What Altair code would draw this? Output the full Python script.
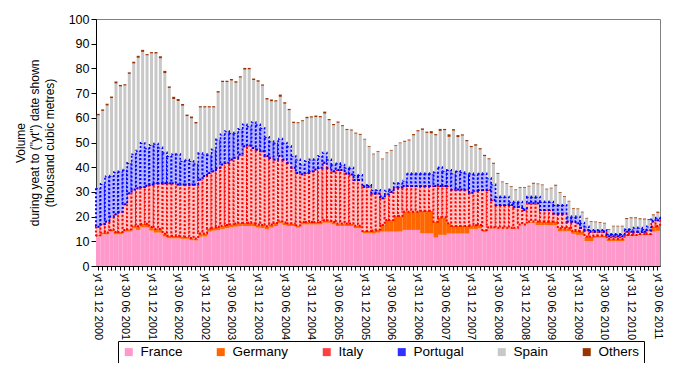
import calendar
import pandas as pd
import altair as alt

series = ["France", "Germany", "Italy", "Portugal", "Spain", "Others"]
colors = ["#FF99CC", "#FF6600", "#FFC4C4", "#B4B4FF", "#C8C8C8", "#993300"]
legend_colors = ["#FF99CC", "#FF6600", "#FF4040", "#3030FF", "#C8C8C8", "#993300"]

# months: year-to-date points, Dec 2000 .. Jun 2011
months = []
for i in range(127):
    yr = 2000 + (11 + i) // 12
    mo = (11 + i) % 12 + 1
    dd = calendar.monthrange(yr, mo)[1]
    months.append(f"yt {dd:02d} {mo:02d} {yr}")

france = [12, 12.8, 12.8, 13.9, 12.8, 12.8, 13.9, 13.9, 15.2, 14.6,
          15.6, 15.6, 14.3, 13.5, 13.5, 11.9, 11.2, 11.2, 11.2, 11,
          11, 10.5, 10.3, 11.9, 11.9, 13.9, 14.3, 14.6, 15, 15.3,
          15.6, 15.9, 16.2, 16.2, 16.2, 16, 15.5, 15.3, 14.8, 15.5,
          16.2, 17.3, 16.5, 16.2, 16.2, 15.5, 16.8, 16.8, 16.8, 16.8,
          16.8, 17.5, 17.5, 16.8, 16.2, 16.2, 16.2, 16.2, 15.3, 15.3,
          13.2, 13.2, 13.2, 13.5, 13.9, 13.9, 13.9, 13.9, 13.9, 14.6,
          14.6, 14.6, 14.6, 13.2, 13.2, 13.2, 11.5, 12.6, 12.6, 13.1,
          13.1, 13.1, 13.1, 13.1, 15, 15, 15.2, 13.8, 15.2, 15.2,
          15.2, 15.2, 15.2, 15.2, 15.2, 16.5, 16.5, 17.5, 17.5, 16.5,
          16.5, 16.5, 16.5, 16.5, 14, 14, 14, 13, 12.6, 12.6,
          10.1, 10.1, 11.5, 11.5, 11.5, 10.1, 10.1, 10.1, 10.1, 12.1,
          12.1, 12.1, 12.5, 12.5, 12.5, 13.9, 14.2]
germany = [0.5, 0.8, 0.8, 0.7, 1.0, 1.0, 0.7, 1.0, 1.2, 1.5,
           1.5, 1.5, 1.5, 1.5, 1.5, 1.2, 1.0, 1.0, 1.0, 1.0,
           0.8, 0.8, 0.8, 1.3, 1.3, 1.3, 1.3, 1.3, 1.3, 1.3,
           1.3, 1.3, 1.3, 1.3, 1.3, 1.3, 1.3, 1.3, 1.3, 1.3,
           1.2, 1.1, 1.1, 1.1, 1.0, 1.0, 1.0, 1.0, 1.0, 1.0,
           1.0, 1.0, 1.0, 1.0, 1.0, 1.0, 1.0, 1.0, 1.0, 1.0,
           1.0, 1.0, 1.2, 1.3, 2.7, 4.7, 4.7, 6.3, 6.3, 7.4,
           7.4, 7.4, 7.4, 9.2, 9.2, 9.2, 6.4, 7.1, 7.1, 4.2,
           3.1, 3.1, 3.1, 3.1, 1.5, 1.5, 1.4, 0.8, 0.5, 0.5,
           0.3, 0.3, 0.3, 0.3, 0.3, 0.3, 0.3, 0.5, 0.5, 1.5,
           1.5, 1.5, 1.5, 1.5, 1.3, 1.3, 1.3, 1.3, 1.7, 1.4,
           1.8, 1.8, 0.8, 0.8, 0.8, 0.9, 0.9, 0.9, 0.9, 0.5,
           0.5, 0.5, 0.5, 0.5, 0.5, 2.0, 2.0]
italy = [3.4, 3.4, 4.4, 5.4, 7.2, 8.2, 10.4, 14.6, 14.6, 15.4,
         14.9, 15.4, 17.2, 18.5, 18.5, 20.4, 21.3, 21.3, 20.8, 21,
         21.2, 21.7, 21.9, 21.8, 23.2, 22.5, 22.8, 23.9, 24.8, 25.2,
         26.2, 26.6, 27.6, 31, 31.3, 30.5, 30.4, 29.9, 28.4, 27,
         25.7, 26.1, 25.5, 24.5, 22.6, 21.2, 19.3, 19.9, 20.6, 21.3,
         22, 23.3, 21.3, 20.6, 21.7, 21.7, 20.3, 19.8, 18.5, 18.5,
         17.9, 17.9, 15, 14.6, 10.8, 10.4, 11.4, 11.7, 11.7, 10.4,
         10.4, 10.4, 10.4, 10, 10, 10, 14.5, 12.7, 12.7, 15.1,
         14.8, 14.8, 14.8, 14.8, 13.2, 14, 14.2, 16.2, 15.1, 11,
         9.2, 9.2, 9.2, 9.2, 8.5, 7.2, 5.9, 7.4, 7.4, 7.4,
         4.7, 4.7, 4.7, 3.3, 6, 6, 2.7, 3.7, 3, 1.5,
         2.6, 2, 1.6, 1.6, 1.6, 1, 1, 1, 1, 1.3,
         1.3, 1.3, 0.9, 0.9, 1.5, 2.1, 2.3]
portugal = [15.6, 16.2, 18.3, 16.5, 17, 16.3, 14, 12.2, 14.3, 15.2,
            17.8, 15.2, 16, 16, 14.5, 12.5, 11, 11.8, 12.2, 9.5,
            10, 9.5, 8.5, 10.6, 8.7, 7.4, 8.8, 11.4, 12.1, 12.8,
            10.8, 10.1, 10.4, 8.8, 7.8, 10.4, 10.1, 9.4, 7.7, 6.7,
            6.8, 7, 6.8, 6.7, 4.7, 5.4, 4, 4.8, 4.7, 4,
            4.7, 4, 3.3, 2.7, 2.7, 2.1, 2.3, 2.8, 2, 2,
            0.7, 0.7, 1.4, 1.4, 1.1, 1.5, 1, 1.6, 1.6, 2.1,
            5.1, 5.1, 5.1, 5.1, 5.1, 5.1, 5.6, 7.6, 6.1, 6.5,
            6.5, 7.5, 7, 6.5, 7.8, 6.5, 6.7, 6.7, 4.7, 6.3,
            3.3, 3.3, 3.3, 1.3, 2, 2, 0.8, 2.6, 2.6, 2.6,
            3.3, 3.3, 3.3, 3.4, 3.4, 3.4, 2, 2, 2.7, 2,
            1.5, 0.7, 0.7, 0.7, 0.7, 1, 1, 1, 1, 1.1,
            1.1, 1.6, 1.6, 1.1, 1.5, 0.8, 1]
spain = [29.5, 29.6, 28.7, 31.5, 35.9, 34.4, 34.1, 36.1, 36.7, 37.6,
         36.9, 37.6, 37.1, 36.5, 36.1, 32.1, 27.6, 22.3, 21.6, 22.4,
         17.7, 17.3, 16.2, 18.6, 19.1, 19.1, 17, 19, 21.3, 19.9,
         21.2, 20.3, 20.8, 22.2, 23, 17.1, 17.3, 17.1, 15.2, 16.2,
         16.7, 17, 15.8, 14.6, 13.4, 14.7, 17.5, 17.3, 17, 17.2,
         15.7, 15.9, 15.9, 15.9, 16.4, 15.6, 15.3, 15.1, 16.8, 16.3,
         18.4, 15.4, 14.4, 15.4, 14.7, 15.2, 15.7, 15.2, 16.2, 15.8,
         13.3, 15.4, 17, 17.6, 16.4, 16.2, 14.9, 14.7, 16.5, 13.4,
         17.3, 13.7, 14.8, 13, 10.6, 11.7, 9.7, 7, 7.7, 8.4,
         9.3, 5.9, 5.2, 6.1, 4.7, 5.7, 8.2, 4.2, 5.3, 5.1,
         6.7, 5, 5.4, 7.8, 4.9, 3.3, 6.1, 3.2, 3, 4.2,
         3.2, 3.3, 3.1, 2.9, 2.6, 1.7, 3, 3, 3, 4,
         4.3, 3.8, 3.4, 3.8, 2.6, 1.7, 2]
others = [0.6, 0.6, 0.7, 0.6, 0.8, 0.6, 0.5, 0.6, 0.7, 0.8,
          0.8, 0.5, 0.5, 0.6, 0.8, 0.9, 0.6, 0.9, 0.8, 0.7,
          0.6, 0.7, 0.6, 0.5, 0.5, 0.5, 0.5, 0.6, 0.5, 0.5,
          0.6, 0.6, 0.5, 0.7, 0.6, 0.6, 0.6, 0.5, 0.6, 0.7,
          0.5, 0.9, 0.6, 0.5, 0.5, 0.4, 0.4, 0.6, 0.5, 0.6,
          0.5, 0.8, 0.5, 0.5, 0.5, 0.4, 0.4, 0.4, 0.4, 0.4,
          0.3, 0.3, 0.3, 0.3, 0.3, 0.3, 0.3, 0.3, 0.3, 0.4,
          0.4, 0.5, 0.5, 0.6, 0.5, 0.9, 0.5, 0.8, 0.5, 1.0,
          0.6, 0.8, 0.5, 0.5, 0.5, 0.6, 0.5, 0.5, 0.4, 0.4,
          0.4, 0.3, 0.3, 0.3, 0.3, 0.3, 0.3, 0.3, 0.4, 0.3,
          0.3, 0.3, 0.3, 0.4, 0.3, 0.3, 0.3, 0.3, 0.3, 0.3,
          0.3, 0.3, 0.3, 0.3, 0.3, 0.3, 0.3, 0.3, 0.3, 0.4,
          0.4, 0.4, 0.4, 0.4, 0.4, 0.4, 0.5]

values = [france, germany, italy, portugal, spain, others]
rows = []
for k, (name, vals) in enumerate(zip(series, values)):
    for i, v in enumerate(vals):
        rows.append({"month": months[i], "series": name, "order": k, "value": v})
df = pd.DataFrame(rows)

label_expr = ("(indexof(datum.label, ' 06 ') > 0 || indexof(datum.label, ' 12 ') > 0)"
              " ? datum.label : ''")

FONT = "Liberation Sans"
textured = "datum.series == 'Italy' || datum.series == 'Portugal'"

x_enc = alt.X("month:N", sort=months,
              scale=alt.Scale(paddingInner=0, paddingOuter=0),
              axis=alt.Axis(title=None, labelAngle=90, labelAlign="left",
                            labelBaseline="middle", labelFont=FONT,
                            labelFontSize=11, labelColor="black",
                            labelPadding=3, labelOverlap=False,
                            labelExpr=label_expr, tickSize=4,
                            tickColor="black", domainColor="black"))
y_enc = alt.Y("value:Q", stack="zero",
              scale=alt.Scale(domain=[0, 100], nice=False),
              axis=alt.Axis(values=list(range(0, 101, 10)), grid=False,
                            domainColor="black", tickColor="black", tickSize=5,
                            labelFont=FONT, labelFontSize=12.5,
                            labelColor="black", labelPadding=2,
                            title=["Volume",
                                   'during yeat to ("yt") date shown',
                                   "(thousand cubic metres)"],
                            titleFont=FONT, titleFontSize=12,
                            titleFontWeight="normal", titleColor="black",
                            titleAngle=270, titleX=-81, titleY=123.5,
                            titleAlign="center", titleBaseline="top",
                            titleLineHeight=14.5))

bars = alt.Chart(df).mark_bar(strokeDash=[2, 2]).encode(
    x=x_enc,
    y=y_enc,
    color=alt.Color("series:N", sort=series,
                    scale=alt.Scale(domain=series, range=colors),
                    legend=None),
    stroke=alt.condition("datum.series == 'Italy'",
                         alt.value("#FF0000"), alt.value("#0000FF")),
    strokeWidth=alt.condition(textured, alt.value(2), alt.value(0)),
    order=alt.Order("order:Q", sort="ascending"),
    size=alt.condition("datum.series == 'Spain' || datum.series == 'Others'",
                       alt.value(3.0), alt.value(4.5)),
)

# legend carried by an invisible layer so that symbols show the main hues
legend_layer = alt.Chart(df).mark_square(opacity=0, size=0).encode(
    fill=alt.Fill("series:N", sort=series,
                  scale=alt.Scale(domain=series, range=legend_colors),
                  legend=alt.Legend(title=None, orient="none",
                                    legendX=22, legendY=322,
                                    direction="horizontal", columns=6,
                                    symbolType="square", symbolSize=64,
                                    symbolStrokeWidth=0, symbolOpacity=1,
                                    labelFont=FONT, labelFontSize=13.5,
                                    labelColor="black", labelOffset=5,
                                    columnPadding=31, padding=4,
                                    strokeColor="black")),
)

chart = alt.layer(bars, legend_layer).resolve_scale(
    color="independent", fill="independent"
).properties(
    width=564, height=247,
    autosize=alt.AutoSizeParams(type="none"),
    padding={"left": 88, "top": 11, "right": 5, "bottom": 97},
    background="white",
).configure_view(stroke="#808080", strokeWidth=1)

chart.save("out.html", embed_options={"renderer": "svg", "actions": False})
